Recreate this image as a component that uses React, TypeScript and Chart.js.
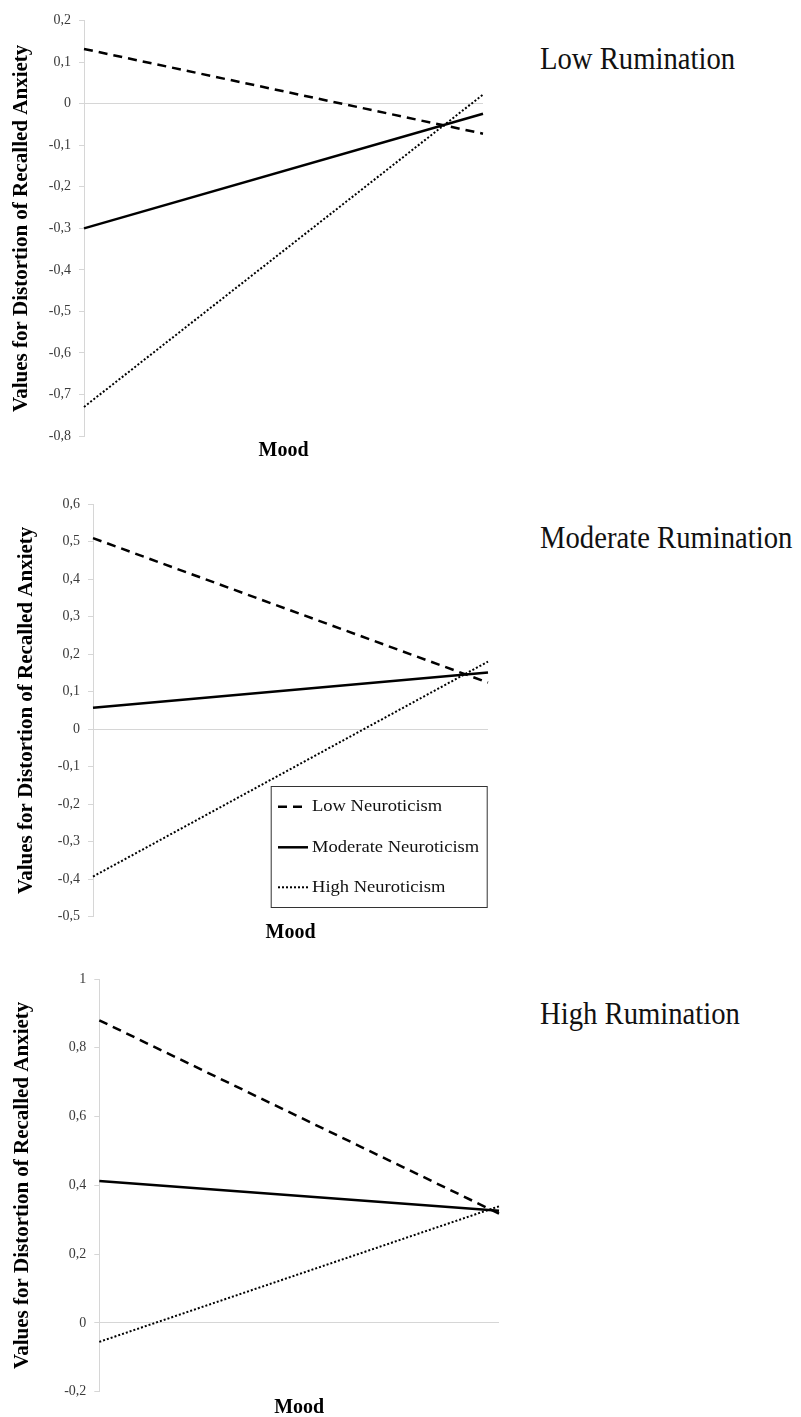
import React, { useEffect, useRef } from 'react';
import { Chart, registerables } from 'chart.js';

Chart.register(...registerables);

// ---- Data ----
const moodLabels = ['Low Mood', 'High Mood'];
const seriesNames = ['Low Neuroticism', 'Moderate Neuroticism', 'High Neuroticism'];

// Low Rumination
const lowRumLowNeuro = [0.132, -0.072];
const lowRumModNeuro = [-0.3, -0.024];
const lowRumHighNeuro = [-0.73, 0.022];

// Moderate Rumination
const modRumLowNeuro = [0.509, 0.124];
const modRumModNeuro = [0.057, 0.151];
const modRumHighNeuro = [-0.393, 0.18];

// High Rumination
const highRumLowNeuro = [0.88, 0.318];
const highRumModNeuro = [0.413, 0.326];
const highRumHighNeuro = [-0.055, 0.339];

const panelTitles = ['Low Rumination', 'Moderate Rumination', 'High Rumination'];
const yRanges = [
  { min: -0.8, max: 0.2, step: 0.1 },
  { min: -0.5, max: 0.6, step: 0.1 },
  { min: -0.2, max: 1, step: 0.2 },
];
const yTitle = 'Values for Distortion of Recalled Anxiety';
const xTitle = 'Mood';

const SERIF = '"Liberation Serif", "Times New Roman", Times, serif';

const lineStyles = [
  { borderDash: [9, 6], borderWidth: 2.5 },
  { borderDash: [], borderWidth: 2.5 },
  { borderDash: [2, 2], borderWidth: 2 },
];

const fmt = (v: number) => {
  const r = Math.round(v * 10) / 10;
  return (r === 0 ? '0' : String(r)).replace('.', ',');
};

const boxLegendPlugin = {
  id: 'boxLegend',
  afterDatasetsDraw(chart: any, _args: any, opts: any) {
    if (!opts || !opts.show) return;
    const ctx = chart.ctx;
    const { x, y, w, h, rowY, sampleX, sampleLen, textX } = opts;
    ctx.save();
    ctx.fillStyle = '#ffffff';
    ctx.fillRect(x, y, w, h);
    ctx.strokeStyle = '#333333';
    ctx.lineWidth = 1;
    ctx.strokeRect(x + 0.5, y + 0.5, w, h);
    chart.data.datasets.forEach((ds: any, i: number) => {
      const yy = rowY[i];
      ctx.beginPath();
      ctx.setLineDash(ds.borderDash || []);
      ctx.lineWidth = ds.borderWidth;
      ctx.strokeStyle = ds.borderColor;
      ctx.moveTo(sampleX, yy);
      ctx.lineTo(sampleX + sampleLen, yy);
      ctx.stroke();
      ctx.setLineDash([]);
      ctx.save();
      ctx.translate(textX, yy);
      ctx.scale(1.09, 1);
      ctx.font = `17px ${SERIF}`;
      ctx.fillStyle = '#111111';
      ctx.textBaseline = 'middle';
      ctx.textAlign = 'left';
      ctx.fillText(ds.label, 0, 0);
      ctx.restore();
    });
    ctx.restore();
  },
};

type PanelProps = {
  top: number;
  width: number;
  height: number;
  axisX: number;
  topPad: number;
  bottomY: number;
  rightX: number;
  yTitleCenter: number;
  range: { min: number; max: number; step: number };
  series: number[][];
  legend?: any;
};

function Panel(p: PanelProps) {
  const ref = useRef<HTMLCanvasElement | null>(null);
  useEffect(() => {
    if (!ref.current) return;
    const chart = new Chart(ref.current, {
      type: 'line',
      data: {
        labels: moodLabels,
        datasets: p.series.map((vals, i) => ({
          label: seriesNames[i],
          data: vals,
          borderColor: '#000000',
          backgroundColor: '#000000',
          borderDash: lineStyles[i].borderDash,
          borderWidth: lineStyles[i].borderWidth,
          pointRadius: 0,
          pointHoverRadius: 0,
          fill: false,
          tension: 0,
        })),
      },
      options: {
        responsive: false,
        animation: false,
        devicePixelRatio: 1,
        layout: {
          padding: { top: p.topPad, left: 0, right: p.width - p.rightX, bottom: 0 },
        },
        plugins: {
          legend: { display: false },
          tooltip: { enabled: false },
          title: { display: false },
          boxLegend: p.legend ? { show: true, ...p.legend } : { show: false },
        } as any,
        scales: {
          x: {
            type: 'category',
            offset: false,
            grid: { display: false },
            border: { display: false },
            ticks: { display: false },
            title: {
              display: true,
              text: xTitle,
              color: '#000000',
              font: { family: SERIF, size: 20, weight: 'bold', lineHeight: 1.2 },
              padding: { top: 0, bottom: 0 },
            },
            afterFit: (scale: any) => {
              scale.height = p.height - p.bottomY;
            },
          },
          y: {
            type: 'linear',
            min: p.range.min,
            max: p.range.max,
            ticks: {
              stepSize: p.range.step,
              callback: (v: any) => fmt(Number(v)),
              color: '#3a3a3a',
              font: { family: SERIF, size: 14 },
              padding: 8,
            },
            grid: {
              color: (c: any) => (c.tick && Math.abs(c.tick.value) < 1e-9 ? '#d6d6d6' : 'rgba(0,0,0,0)'),
              tickColor: '#d6d6d6',
              tickLength: 5,
              lineWidth: 1,
            },
            border: { display: true, color: '#d6d6d6', width: 1 },
            title: {
              display: true,
              text: yTitle,
              color: '#000000',
              font: { family: SERIF, size: 21, weight: 'bold', lineHeight: 1.2 },
              padding: { top: p.yTitleCenter - 12.6, bottom: 0 },
            },
            afterFit: (scale: any) => {
              scale.width = p.axisX;
            },
          },
        },
      } as any,
      plugins: [boxLegendPlugin as any],
    });
    return () => chart.destroy();
  }, []);
  return (
    <canvas
      ref={ref}
      width={p.width}
      height={p.height}
      style={{ position: 'absolute', left: 0, top: p.top, width: p.width, height: p.height }}
    />
  );
}

const titleStyle = (top: number): React.CSSProperties => ({
  position: 'absolute',
  left: 540,
  top,
  fontFamily: SERIF,
  fontSize: 31,
  lineHeight: '31px',
  color: '#111111',
  whiteSpace: 'nowrap',
  transform: 'scaleX(0.925)',
  transformOrigin: 'left top',
});

export default function App() {
  useEffect(() => {
    document.body.style.margin = '0';
    document.body.style.overflow = 'hidden';
  }, []);
  return (
    <div style={{ position: 'relative', width: 801, height: 1417, overflow: 'hidden', background: '#ffffff' }}>
      <Panel
        top={0}
        width={520}
        height={463}
        axisX={84}
        topPad={20.7}
        bottomY={436}
        rightX={483}
        yTitleCenter={21.2}
        range={yRanges[0]}
        series={[lowRumLowNeuro, lowRumModNeuro, lowRumHighNeuro]}
      />
      <Panel
        top={470}
        width={520}
        height={475}
        axisX={93}
        topPad={34}
        bottomY={446.7}
        rightX={488}
        yTitleCenter={26.2}
        range={yRanges[1]}
        series={[modRumLowNeuro, modRumModNeuro, modRumHighNeuro]}
        legend={{ x: 270.7, y: 316, w: 216, h: 121, rowY: [336.7, 377.3, 417.3], sampleX: 278, sampleLen: 30, textX: 312 }}
      />
      <Panel
        top={950}
        width={520}
        height={470}
        axisX={99.3}
        topPad={29}
        bottomY={441.7}
        rightX={499}
        yTitleCenter={22.2}
        range={yRanges[2]}
        series={[highRumLowNeuro, highRumModNeuro, highRumHighNeuro]}
      />
      <div style={titleStyle(43.3)}>{panelTitles[0]}</div>
      <div style={titleStyle(522.3)}>{panelTitles[1]}</div>
      <div style={titleStyle(998.3)}>{panelTitles[2]}</div>
    </div>
  );
}
